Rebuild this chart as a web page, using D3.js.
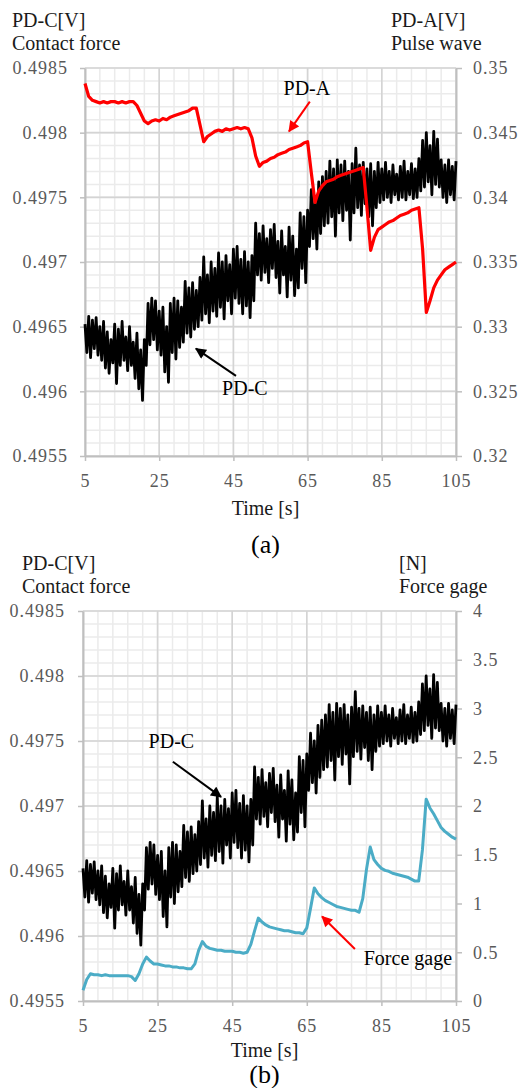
<!DOCTYPE html>
<html>
<head>
<meta charset="utf-8">
<script src="https://cdn.jsdelivr.net/npm/d3@7"></script>
<style>
body { margin: 0; background: #fff; }
svg { display: block; font-family: "Liberation Serif", "Times New Roman", serif; }
.title { font-size: 20px; fill: #1a1a1a; }
.note { font-size: 20px; fill: #000; }
.caption { font-size: 26px; fill: #000; }
</style>
</head>
<body>
<svg id="chart" width="521" height="1088"></svg>
<script>
// shared time axis
var timeDomain = [5, 105];
var timeTicks = [5, 25, 45, 65, 85, 105];

// PD-C contact force [V], sampled every 0.5 s from 5 s (used in both panels)
var pdCStart = 5, pdCStep = 0.5;
var pdC = [
  0.49652, 0.49630, 0.49658, 0.49626, 0.49655, 0.49633, 0.49657, 0.49628, 0.49650, 0.49624,
  0.49654, 0.49618, 0.49646, 0.49614, 0.49640, 0.49622, 0.49652, 0.49606, 0.49648, 0.49620,
  0.49654, 0.49624, 0.49642, 0.49616, 0.49650, 0.49620, 0.49638, 0.49610, 0.49645, 0.49602,
  0.49632, 0.49593, 0.49640, 0.49620, 0.49668, 0.49636, 0.49672, 0.49640, 0.49670, 0.49632,
  0.49662, 0.49628, 0.49665, 0.49615, 0.49650, 0.49607, 0.49668, 0.49630, 0.49672, 0.49625,
  0.49670, 0.49634, 0.49665, 0.49638, 0.49685, 0.49645, 0.49680, 0.49642, 0.49684, 0.49648,
  0.49678, 0.49650, 0.49688, 0.49655, 0.49704, 0.49660, 0.49690, 0.49653, 0.49700, 0.49662,
  0.49695, 0.49658, 0.49707, 0.49665, 0.49700, 0.49656, 0.49705, 0.49670, 0.49698, 0.49660,
  0.49710, 0.49672, 0.49712, 0.49668, 0.49702, 0.49660, 0.49708, 0.49666, 0.49700, 0.49657,
  0.49705, 0.49670, 0.49730, 0.49690, 0.49722, 0.49686, 0.49728, 0.49692, 0.49718, 0.49684,
  0.49725, 0.49695, 0.49729, 0.49688, 0.49716, 0.49676, 0.49724, 0.49690, 0.49712, 0.49673,
  0.49727, 0.49686, 0.49720, 0.49674, 0.49710, 0.49680, 0.49738, 0.49695, 0.49735, 0.49684,
  0.49740, 0.49712, 0.49756, 0.49718, 0.49750, 0.49710, 0.49762, 0.49722, 0.49766, 0.49728,
  0.49770, 0.49730, 0.49778, 0.49735, 0.49772, 0.49720, 0.49779, 0.49738, 0.49775, 0.49732,
  0.49778, 0.49740, 0.49770, 0.49717, 0.49776, 0.49738, 0.49788, 0.49742, 0.49775, 0.49736,
  0.49777, 0.49745, 0.49772, 0.49735, 0.49776, 0.49728, 0.49770, 0.49742, 0.49777, 0.49746,
  0.49772, 0.49748, 0.49777, 0.49750, 0.49770, 0.49746, 0.49775, 0.49752, 0.49768, 0.49748,
  0.49774, 0.49750, 0.49778, 0.49748, 0.49770, 0.49752, 0.49776, 0.49749, 0.49772, 0.49750,
  0.49780, 0.49755, 0.49794, 0.49758, 0.49800, 0.49762, 0.49790, 0.49752, 0.49801, 0.49760,
  0.49795, 0.49758, 0.49779, 0.49750, 0.49775, 0.49746, 0.49779, 0.49752, 0.49774, 0.49748,
  0.49778
];

// PD-A pulse wave [V], every 1 s from 5 s
var pdAStart = 5, pdAStep = 1;
var pdA = [
  0.3488, 0.3478, 0.3475, 0.3474, 0.3473, 0.3474, 0.3473, 0.3474, 0.3474, 0.3473,
  0.3474, 0.3473, 0.3474, 0.3474, 0.3471, 0.3465, 0.3459, 0.3457, 0.3459, 0.3460,
  0.3459, 0.3461, 0.3460, 0.3462, 0.3463, 0.3464, 0.3465, 0.3466, 0.3467, 0.3469,
  0.3469, 0.3456, 0.3443, 0.3447, 0.3449, 0.3451, 0.3452, 0.3451, 0.3453, 0.3452,
  0.3453, 0.3454, 0.3453, 0.3454, 0.3453, 0.3446, 0.3432, 0.3424, 0.3427, 0.3428,
  0.3430, 0.3431, 0.3433, 0.3434, 0.3435, 0.3437, 0.3438, 0.3439, 0.3440, 0.3442,
  0.3443, 0.3419, 0.3396, 0.3405, 0.3409, 0.3412, 0.3413, 0.3414, 0.3416, 0.3417,
  0.3418, 0.3419, 0.3420, 0.3421, 0.3422, 0.3423, 0.3392, 0.3359, 0.3369, 0.3375,
  0.3377, 0.3379, 0.3381, 0.3382, 0.3384, 0.3386, 0.3387, 0.3388, 0.3390, 0.3391,
  0.3392, 0.3360, 0.3311, 0.3320, 0.3330, 0.3336, 0.3340, 0.3344, 0.3346, 0.3348,
  0.3350
];

// force gage [N], every 1 s from 5 s
var forceStart = 5, forceStep = 1;
var forceGage = [
  0.11, 0.22, 0.28, 0.27, 0.27, 0.26, 0.27, 0.26, 0.26, 0.26,
  0.26, 0.26, 0.26, 0.25, 0.21, 0.28, 0.38, 0.45, 0.41, 0.38,
  0.38, 0.37, 0.36, 0.36, 0.35, 0.35, 0.34, 0.34, 0.33, 0.33,
  0.38, 0.52, 0.61, 0.56, 0.54, 0.53, 0.52, 0.52, 0.51, 0.51,
  0.51, 0.50, 0.50, 0.49, 0.50, 0.58, 0.72, 0.85, 0.81, 0.78,
  0.76, 0.75, 0.74, 0.73, 0.72, 0.72, 0.71, 0.70, 0.70, 0.69,
  0.75, 0.95, 1.16, 1.10, 1.06, 1.03, 1.01, 0.99, 0.97, 0.96,
  0.95, 0.94, 0.93, 0.93, 0.91, 1.05, 1.35, 1.58, 1.45, 1.40,
  1.36, 1.34, 1.33, 1.31, 1.30, 1.29, 1.28, 1.27, 1.25, 1.23,
  1.23, 1.55, 2.07, 1.98, 1.92, 1.85, 1.78, 1.74, 1.71, 1.68,
  1.66
];

// axis ticks and their labels
var leftDomain = [0.4955, 0.4985];
var leftTicks = [0.4955, 0.496, 0.4965, 0.497, 0.4975, 0.498, 0.4985];
var leftTickLabels = ["0.4955", "0.496", "0.4965", "0.497", "0.4975", "0.498", "0.4985"];
var pdADomain = [0.32, 0.35];
var pdATicks = [0.32, 0.325, 0.33, 0.335, 0.34, 0.345, 0.35];
var pdATickLabels = ["0.32", "0.325", "0.33", "0.335", "0.34", "0.345", "0.35"];
var forceDomain = [0, 4];
var forceTicks = [0, 0.5, 1, 1.5, 2, 2.5, 3, 3.5, 4];
var forceTickLabels = ["0", "0.5", "1", "1.5", "2", "2.5", "3", "3.5", "4"];

/**
 * Constructor for a two y-axis time chart
 */
function DualAxisChart(svg, opts){
    var self = this;
    self.svg = svg;
    self.opts = opts;
    self.init();
};

/**
 * Scales, grid, axes and axis titles
 */
DualAxisChart.prototype.init = function(){
    var self = this;
    var o = self.opts;
    var g = self.svg.append("g");
    self.g = g;

    self.x = d3.scaleLinear().domain(timeDomain).range([o.left, o.right]);
    self.yL = d3.scaleLinear().domain(leftDomain).range([o.bottom, o.top]);
    self.yR = d3.scaleLinear().domain(o.rightDomain).range([o.bottom, o.top]);

    //minor grid: every 4 s and every 0.0001 V
    var minorX = d3.range(timeDomain[0], timeDomain[1] + 0.01, 4);
    var minorY = d3.range(0, 31).map(function(i){ return leftDomain[0] + i * 0.0001; });
    g.append("g").selectAll("line").data(minorX).enter().append("line")
        .attr("x1", self.x).attr("x2", self.x)
        .attr("y1", o.top).attr("y2", o.bottom)
        .attr("stroke", "#ebebeb").attr("stroke-width", 1.5);
    g.append("g").selectAll("line").data(minorY).enter().append("line")
        .attr("x1", o.left).attr("x2", o.right)
        .attr("y1", self.yL).attr("y2", self.yL)
        .attr("stroke", "#ebebeb").attr("stroke-width", 1.5);

    //major grid
    g.append("g").selectAll("line").data(timeTicks).enter().append("line")
        .attr("x1", self.x).attr("x2", self.x)
        .attr("y1", o.top).attr("y2", o.bottom)
        .attr("stroke", "#d4d4d4").attr("stroke-width", 1.6);
    g.append("g").selectAll("line").data(leftTicks).enter().append("line")
        .attr("x1", o.left).attr("x2", o.right)
        .attr("y1", self.yL).attr("y2", self.yL)
        .attr("stroke", "#d4d4d4").attr("stroke-width", 1.6);

    var leftAxis = d3.axisLeft(self.yL).tickValues(leftTicks)
        .tickFormat(function(d, i){ return leftTickLabels[i]; })
        .tickSizeInner(5).tickSizeOuter(0).tickPadding(o.leftPad);
    var rightAxis = d3.axisRight(self.yR).tickValues(o.rightTicks)
        .tickFormat(function(d, i){ return o.rightLabels[i]; })
        .tickSizeInner(6).tickSizeOuter(0).tickPadding(11);
    var bottomAxis = d3.axisBottom(self.x).tickValues(timeTicks)
        .tickFormat(d3.format("d"))
        .tickSizeInner(5).tickSizeOuter(0).tickPadding(13);

    g.append("g").attr("transform", "translate(" + o.left + ",0)").call(leftAxis);
    g.append("g").attr("transform", "translate(" + o.right + ",0)").call(rightAxis);
    g.append("g").attr("transform", "translate(0," + o.bottom + ")").call(bottomAxis);

    g.selectAll(".domain").attr("stroke", "#bfbfbf").attr("stroke-width", 2);
    g.selectAll(".tick line").attr("stroke", "#bfbfbf").attr("stroke-width", 1.5);
    g.selectAll(".tick text")
        .attr("fill", "#595959")
        .attr("font-family", "Liberation Serif, Times New Roman, serif")
        .attr("font-size", 18)
        .style("letter-spacing", "1px");

    //axis titles
    o.leftTitle.forEach(function(t, i){
        g.append("text").attr("class", "title")
            .attr("x", o.leftTitleX).attr("y", o.titleY + i * 23).text(t);
    });
    o.rightTitle.forEach(function(t, i){
        g.append("text").attr("class", "title")
            .attr("x", o.rightTitleX).attr("y", o.titleY + i * 23).text(t);
    });

    g.append("text").attr("class", "title")
        .attr("x", (o.left + o.right) / 2 - 5).attr("y", o.bottom + o.timeTitleGap)
        .attr("text-anchor", "middle").text("Time [s]");
    g.append("text").attr("class", "caption")
        .attr("x", (o.left + o.right) / 2 - 5).attr("y", o.bottom + o.captionGap)
        .attr("text-anchor", "middle").text(o.caption);
};

/**
 * Adds a line series
 *
 * @param values series values
 * @param start time of the first sample
 * @param step sample interval
 * @param useRight draw against the right axis
 */
DualAxisChart.prototype.addLine = function(values, start, step, useRight, color, width){
    var self = this;
    var y = useRight ? self.yR : self.yL;
    var line = d3.line()
        .x(function(d, i){ return self.x(start + i * step); })
        .y(function(d){ return y(d); });
    self.g.append("path").datum(values)
        .attr("d", line)
        .attr("fill", "none")
        .attr("stroke", color)
        .attr("stroke-width", width)
        .attr("stroke-linejoin", "round");
};

/**
 * Label plus arrow, positioned in data units of the left axis
 */
var noteCount = 0;
DualAxisChart.prototype.addNote = function(note){
    var self = this;
    var id = "ah" + (noteCount++);
    if (self.svg.select("defs").empty()) self.svg.append("defs");
    self.svg.select("defs").append("marker")
        .attr("id", id).attr("viewBox", "0 0 10 10")
        .attr("refX", 9).attr("refY", 5)
        .attr("markerUnits", "userSpaceOnUse")
        .attr("markerWidth", 12).attr("markerHeight", 11)
        .attr("orient", "auto")
        .append("path").attr("d", "M0,0 L10,5 L0,10 z").attr("fill", note.color);

    self.g.append("text").attr("class", "note")
        .attr("x", self.x(note.text[0])).attr("y", self.yL(note.text[1]))
        .attr("text-anchor", "middle").text(note.label);
    self.g.append("line")
        .attr("x1", self.x(note.from[0])).attr("y1", self.yL(note.from[1]))
        .attr("x2", self.x(note.to[0])).attr("y2", self.yL(note.to[1]))
        .attr("stroke", note.color).attr("stroke-width", 2)
        .attr("marker-end", "url(#" + id + ")");
};

var svg = d3.select("#chart");

var chartA = new DualAxisChart(svg, {
    top: 68, bottom: 456, left: 85, right: 456, leftPad: 12,
    rightDomain: pdADomain, rightTicks: pdATicks, rightLabels: pdATickLabels,
    leftTitle: ["PD-C[V]", "Contact force"], leftTitleX: 12,
    rightTitle: ["PD-A[V]", "Pulse wave"], rightTitleX: 391, titleY: 27,
    timeTitleGap: 59, captionGap: 97, caption: "(a)"
});
chartA.addLine(pdC, pdCStart, pdCStep, false, "#000", 2.8);
chartA.addLine(pdA, pdAStart, pdAStep, true, "#ff0000", 3.2);
chartA.addNote({label: "PD-A", text: [64.8, 0.49829], from: [65.6, 0.49824], to: [60.0, 0.49801], color: "#ff0000"});
chartA.addNote({label: "PD-C", text: [48.1, 0.49597], from: [45.7, 0.49612], to: [34.9, 0.49633], color: "#000"});

var chartB = new DualAxisChart(svg, {
    top: 611, bottom: 1001, left: 83, right: 456, leftPad: 13,
    rightDomain: forceDomain, rightTicks: forceTicks, rightLabels: forceTickLabels,
    leftTitle: ["PD-C[V]", "Contact force"], leftTitleX: 22,
    rightTitle: ["[N]", "Force gage"], rightTitleX: 399, titleY: 570,
    timeTitleGap: 56, captionGap: 82, caption: "(b)"
});
chartB.addLine(pdC, pdCStart, pdCStep, false, "#000", 2.8);
chartB.addLine(forceGage, forceStart, forceStep, true, "#4bacc6", 3);
chartB.addNote({label: "PD-C", text: [28.7, 0.49745], from: [29.1, 0.49734], to: [42.0, 0.49707], color: "#000"});
chartB.addNote({label: "Force gage", text: [92.1, 0.49578], from: [77.9, 0.4959], to: [69.1, 0.49615], color: "#ff0000"});
</script>
</body>
</html>
